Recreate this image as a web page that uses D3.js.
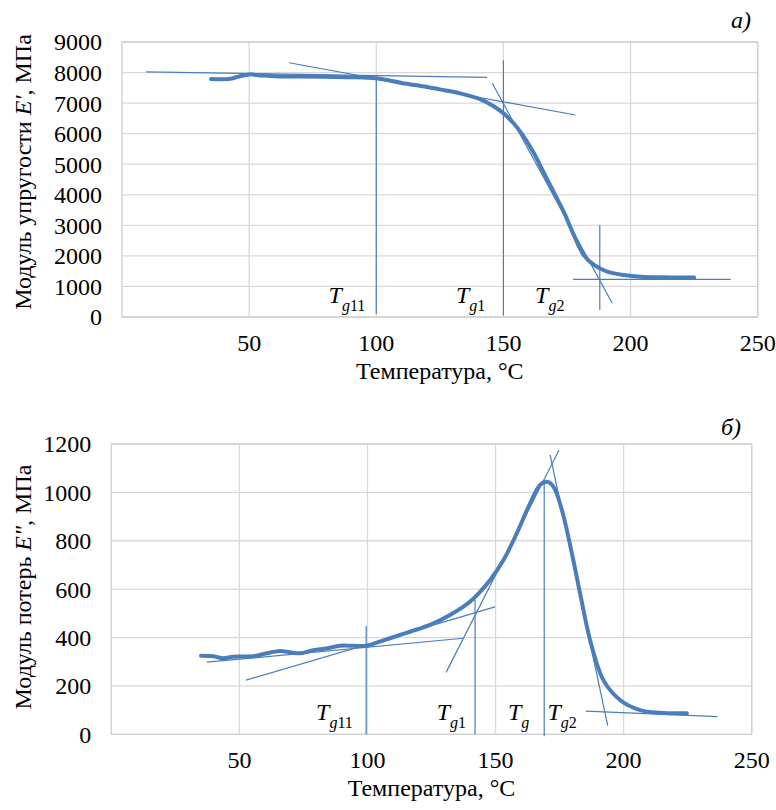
<!DOCTYPE html>
<html>
<head>
<meta charset="utf-8">
<script src="https://cdn.jsdelivr.net/npm/d3@7"></script>
<style>
  body { margin: 0; background: #fff; }
</style>
</head>
<body>
<svg id="chart" width="776" height="810" font-family="'Liberation Serif', 'Times New Roman', Times, serif"></svg>
<script>
// shared temperature axis
const xTicks = [50, 100, 150, 200, 250];

// a) storage modulus E'
const storageTicks = [0, 1000, 2000, 3000, 4000, 5000, 6000, 7000, 8000, 9000];
const storageTemp = [35, 42, 46, 50, 55, 60, 70, 80, 90, 100, 110, 120, 125, 133, 141, 146, 150, 154, 158, 162, 166, 170, 174, 177.7, 181.6, 185.6, 190.8, 197.4, 204, 212, 225];
const storageModulus = [7790, 7790, 7870, 7940, 7900, 7880, 7870, 7860, 7850, 7810, 7660, 7530, 7450, 7320, 7125, 6906, 6667, 6340, 5900, 5357, 4703, 4049, 3394, 2680, 2029, 1702, 1483, 1375, 1320, 1300, 1290];
// tangent construction lines: [t1, v1, t2, v2]
const storageTangents = [
  [9.5, 8020, 143.6, 7845],
  [65.7, 8320, 178.3, 6610],
  [145.6, 7650, 192.8, 450],
  [100, 7820, 100, 100],
  [150, 8400, 150, 50],
  [187.9, 3010, 187.9, 230],
  [177.4, 1233, 239.4, 1233]
];
// annotation subscripts and the temperature where each label ends
const storageLabels = ['11', '1', '2'];
const storageLabelTemp = [95.7, 142.9, 174];

// б) loss modulus E"
const lossTicks = [0, 200, 400, 600, 800, 1000, 1200];
const lossTemp = [35, 39.8, 43.7, 47.6, 55.4, 60.7, 65.9, 69.8, 73.7, 78.9, 84.1, 89.3, 94.5, 99.7, 103.6, 108.8, 116.6, 124.4, 132.2, 140, 147.9, 153.1, 158.3, 163.5, 167.4, 170, 172.6, 175.9, 179.8, 183, 186.9, 192.1, 198.6, 206.4, 214.2, 224.7];
const lossModulus = [325, 323, 314, 321, 323, 335, 344, 339, 335, 348, 355, 366, 366, 366, 379, 397, 424, 452, 493, 548, 638, 720, 831, 955, 1031, 1044, 1024, 927, 748, 583, 390, 224, 142, 100, 89, 87];
const lossTangents = [
  [37.3, 298, 137.4, 397],
  [52.6, 224, 149.8, 527],
  [130.7, 256, 174.8, 1175],
  [171.3, 1155, 193.8, 36],
  [185.2, 96, 236.6, 73],
  [99.5, 448, 99.5, 0],
  [142, 556, 142, 0],
  [169, 1044, 169, -8]
];
const lossLabels = ['11', '1', '', '2'];
const lossLabelTemp = [94.3, 138.5, 163.2, 181.7];

const svg = d3.select('#chart');
const blue = '#4a7ebb';

function drawPanel(opts) {
  const x = d3.scaleLinear().domain([0, 250]).range([opts.left, opts.right]);
  const y = d3.scaleLinear().domain([0, opts.yTicks[opts.yTicks.length - 1]]).range([opts.bottom, opts.top]);
  const g = svg.append('g');

  // grid
  g.selectAll('.gx').data(xTicks).enter().append('line')
    .attr('x1', d => x(d)).attr('x2', d => x(d))
    .attr('y1', opts.top).attr('y2', opts.bottom)
    .attr('stroke', '#d9d9d9').attr('stroke-width', 1.3);
  g.selectAll('.gy').data(opts.yTicks).enter().append('line')
    .attr('x1', opts.left).attr('x2', opts.right)
    .attr('y1', d => y(d)).attr('y2', d => y(d))
    .attr('stroke', '#d9d9d9').attr('stroke-width', 1.3);
  g.append('rect')
    .attr('x', opts.left).attr('y', opts.top)
    .attr('width', opts.right - opts.left).attr('height', opts.bottom - opts.top)
    .attr('fill', 'none').attr('stroke', '#d0d0d0').attr('stroke-width', 1.3);

  // tick labels
  g.selectAll('.tx').data(xTicks).enter().append('text')
    .attr('x', d => x(d)).attr('y', opts.bottom + 34)
    .attr('text-anchor', 'middle').attr('font-size', 24)
    .text(d => d);
  g.selectAll('.ty').data(opts.yTicks).enter().append('text')
    .attr('x', opts.left - 20).attr('y', d => y(d))
    .attr('dy', '0.35em')
    .attr('text-anchor', 'end').attr('font-size', 24)
    .text(d => d);

  // tangents
  g.selectAll('.tan').data(opts.tangents).enter().append('line')
    .attr('x1', d => x(d[0])).attr('y1', d => y(d[1]))
    .attr('x2', d => x(d[2])).attr('y2', d => y(d[3]))
    .attr('stroke', blue).attr('stroke-width', 1.2);

  // curve
  const line = d3.line()
    .x((d, i) => x(opts.temp[i]))
    .y(d => y(d))
    .curve(d3.curveCatmullRom.alpha(0.5));
  g.append('path')
    .attr('d', line(opts.modulus))
    .attr('fill', 'none').attr('stroke', blue)
    .attr('stroke-width', 4).attr('stroke-linecap', 'round');

  // T_g labels
  opts.labels.forEach((sub, i) => {
    const t = g.append('text')
      .attr('x', x(opts.labelTemp[i])).attr('y', opts.bottom - 14)
      .attr('text-anchor', 'end').attr('font-size', 24);
    t.append('tspan').attr('font-style', 'italic').text('T');
    t.append('tspan').attr('font-style', 'italic').attr('font-size', 16).attr('dy', 8).text('g');
    if (sub) t.append('tspan').attr('font-size', 16).text(sub);
  });

  // axis titles
  g.append('text')
    .attr('x', (opts.left + opts.right) / 2).attr('y', opts.bottom + 62)
    .attr('text-anchor', 'middle').attr('font-size', 24)
    .text('Температура, °С');
  const yt = g.append('text')
    .attr('transform', `translate(31,${opts.yTitleY}) rotate(-90)`)
    .attr('text-anchor', 'middle').attr('font-size', 24);
  yt.append('tspan').text(opts.yTitle[0]);
  yt.append('tspan').attr('font-style', 'italic').text(opts.yTitle[1]);
  yt.append('tspan').text(opts.yTitle[2]);

  g.append('text')
    .attr('x', opts.letterX).attr('y', opts.letterY)
    .attr('text-anchor', 'end').attr('font-size', 24).attr('font-style', 'italic')
    .text(opts.letter);
}

drawPanel({
  left: 122, right: 757.7, top: 42, bottom: 317,
  yTicks: storageTicks, temp: storageTemp, modulus: storageModulus,
  tangents: storageTangents, labels: storageLabels, labelTemp: storageLabelTemp,
  yTitle: ['Модуль упругости ', "E'", ', МПа'], yTitleY: 172,
  letter: 'а)', letterX: 751, letterY: 28
});

drawPanel({
  left: 111.3, right: 751.7, top: 444, bottom: 734.3,
  yTicks: lossTicks, temp: lossTemp, modulus: lossModulus,
  tangents: lossTangents, labels: lossLabels, labelTemp: lossLabelTemp,
  yTitle: ['Модуль потерь ', 'E"', ', МПа'], yTitleY: 587,
  letter: 'б)', letterX: 741, letterY: 435
});
</script>
</body>
</html>
